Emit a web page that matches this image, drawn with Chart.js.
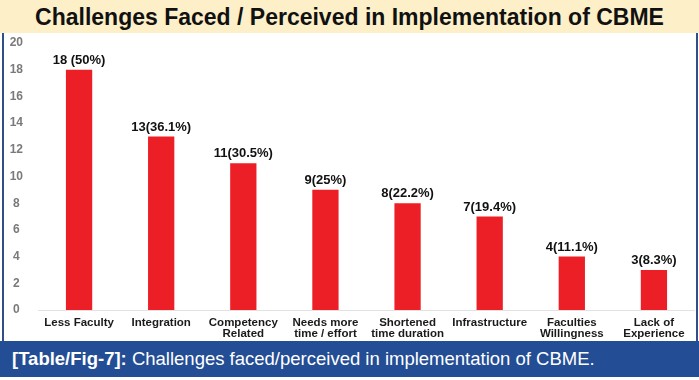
<!DOCTYPE html>
<html>
<head>
<meta charset="utf-8">
<script src="https://cdn.jsdelivr.net/npm/chart.js@4"></script>
<style>
  html, body { margin: 0; padding: 0; background: #fff; }
  #wrap { position: relative; width: 699px; height: 380px; overflow: hidden; background: #fff; font-family: "Liberation Sans", Arial, sans-serif; }
  #title { position: absolute; left: 0; top: 0; width: 699px; height: 33px; background: #fdf0c9; text-align: center; font-weight: bold; font-size: 23px; line-height: 34px; color: #111; }
  #frame { position: absolute; left: 2px; top: 33px; width: 692px; height: 308px; border-left: 2px solid #2f4f86; border-right: 2px solid #2f4f86; }
  #chartBox { position: absolute; left: 4px; top: 33px; width: 691px; height: 308px; }
  #caption { position: absolute; left: 0; top: 341px; width: 699px; height: 36px; background: #234d94; color: #fff; font-size: 18.5px; line-height: 35px; padding-left: 12px; box-sizing: border-box; white-space: nowrap; }
  #caption b { font-weight: bold; }
</style>
</head>
<body>
<div id="wrap">
  <div id="title">Challenges Faced / Perceived in Implementation of CBME</div>
  <div id="frame"></div>
  <div id="chartBox"><canvas id="c" width="691" height="308"></canvas></div>
  <div id="caption"><b>[Table/Fig-7]:</b> Challenges faced/perceived in implementation of CBME.</div>
</div>
<script>
const categories = [
  ["Less Faculty"],
  ["Integration"],
  ["Competency", "Related"],
  ["Needs more", "time / effort"],
  ["Shortened", "time duration"],
  ["Infrastructure"],
  ["Faculties", "Willingness"],
  ["Lack of", "Experience"]
];
const counts = [18, 13, 11, 9, 8, 7, 4, 3];
const valueLabels = ["18 (50%)", "13(36.1%)", "11(30.5%)", "9(25%)", "8(22.2%)", "7(19.4%)", "4(11.1%)", "3(8.3%)"];
const yTicks = [0, 2, 4, 6, 8, 10, 12, 14, 16, 18, 20];

const barLabelPlugin = {
  id: 'barLabels',
  afterDatasetsDraw(chart) {
    const ctx = chart.ctx;
    const meta = chart.getDatasetMeta(0);
    ctx.save();
    ctx.font = 'bold 13px "Liberation Sans", Arial, sans-serif';
    ctx.fillStyle = '#111';
    ctx.textAlign = 'center';
    ctx.textBaseline = 'bottom';
    meta.data.forEach((bar, i) => {
      ctx.fillText(valueLabels[i], bar.x, bar.y - 3);
    });
    ctx.restore();
  }
};

new Chart(document.getElementById('c'), {
  type: 'bar',
  data: {
    labels: categories,
    datasets: [{
      data: counts,
      backgroundColor: '#ec1f26',
      borderWidth: 0,
      categoryPercentage: 1,
      barPercentage: 0.32
    }]
  },
  options: {
    responsive: false,
    animation: false,
    layout: { padding: 0 },
    plugins: { legend: { display: false }, tooltip: { enabled: false }, title: { display: false } },
    scales: {
      x: {
        grid: { display: false, drawTicks: false },
        border: { display: true, color: '#e2e2e2', width: 1 },
        ticks: {
          color: '#1a1a1a',
          font: { family: '"Liberation Sans", Arial, sans-serif', size: 11.5, weight: 'bold', lineHeight: 0.95 },
          padding: 7,
          maxRotation: 0,
          autoSkip: false
        },
        afterFit(scale) { scale.height = 31; }
      },
      y: {
        min: yTicks[0],
        max: yTicks[yTicks.length - 1],
        grid: { display: false, drawTicks: false },
        border: { display: false },
        ticks: {
          stepSize: yTicks[1] - yTicks[0],
          color: '#7a7a7a',
          crossAlign: 'center',
          padding: 15,
          font: { family: '"Liberation Sans", Arial, sans-serif', size: 12, weight: 'bold' }
        },
        afterFit(scale) { scale.width = 34; scale.paddingTop = 10; scale.paddingBottom = 0; }
      }
    }
  },
  plugins: [barLabelPlugin]
});
</script>
</body>
</html>
